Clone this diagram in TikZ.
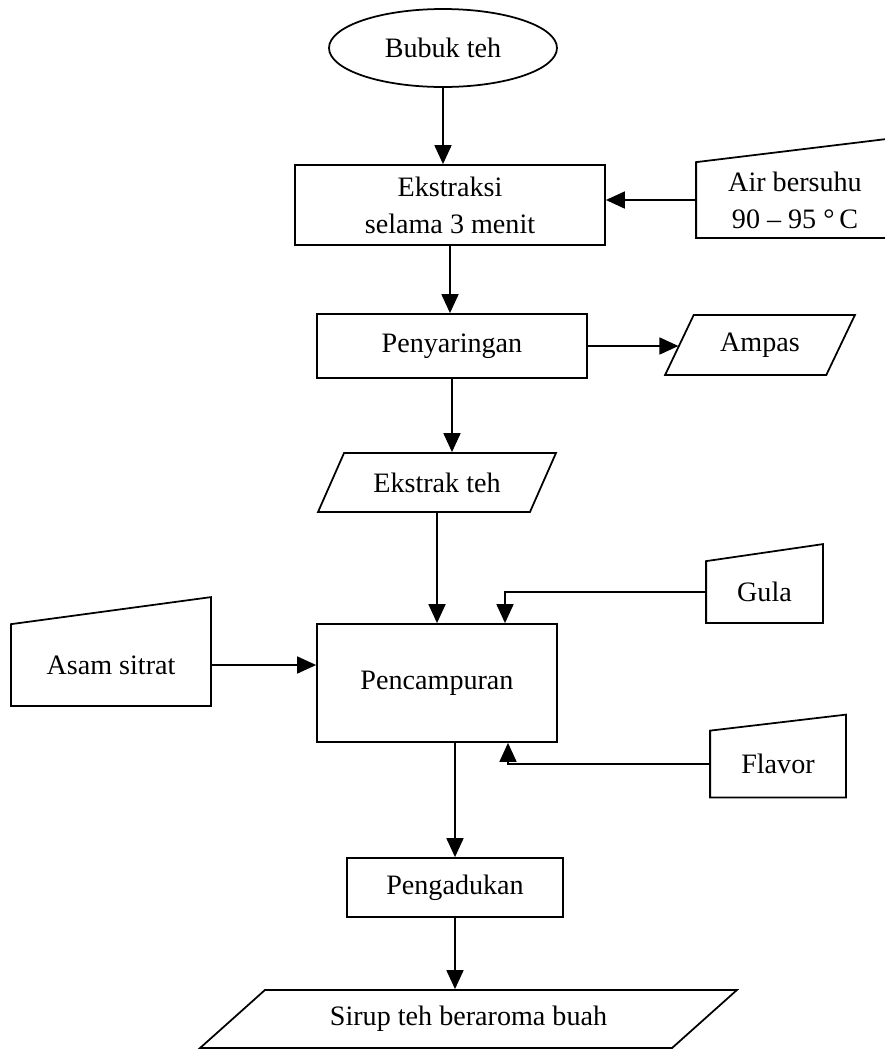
\documentclass[tikz,border=0pt]{standalone}
\usepackage{fontspec}
\setmainfont{Liberation Serif}
\usepackage{tikz}
\usetikzlibrary{arrows.meta,shapes.geometric}

\begin{document}
\begin{tikzpicture}[line width=1pt,font=\fontsize{16}{21}\selectfont,
        proc/.style={draw,rectangle,inner sep=0pt,align=center},
        data/.style={draw,trapezium,trapezium stretches=true,inner sep=0pt},
        manual/.style={rectangle,inner sep=0pt,align=center},
        pfeil/.style={-{Triangle[length=3.8mm,width=3.4mm]}}]
        \useasboundingbox (0,0) rectangle (17.7,-21.06);

        \node[draw,ellipse,minimum width=4.56cm,minimum height=1.56cm,inner sep=0pt] (B) at (8.86,-0.96) {Bubuk teh};
        \node[proc,minimum width=6.2cm,minimum height=1.6cm] (E) at (9.0,-4.1) {Ekstraksi\\selama 3 menit};
        \node[manual,minimum width=3.92cm,minimum height=1.48cm] (Air) at (15.9,-4.0) {Air bersuhu\\90 -- 95 °\,C};
        \draw (Air.south east) -- (Air.south west) -- (Air.north west) -- ([yshift=0.48cm]Air.north east) -- cycle;

        \node[proc,minimum width=5.4cm,minimum height=1.28cm] (P) at (9.04,-6.92) {Penyaringan};
        \node[data,trapezium left angle=55,trapezium right angle=125,minimum width=3.8cm,minimum height=1.2cm] (Amp) at (15.2,-6.9) {Ampas};
        \node[data,trapezium left angle=48,trapezium right angle=132,minimum width=4.8cm,minimum height=1.18cm] (Ek) at (8.74,-9.65) {Ekstrak teh};

        \node[proc,minimum width=4.8cm,minimum height=2.36cm] (C) at (8.74,-13.66) {Pencampuran};
        \node[manual,minimum width=2.3cm,minimum height=1.2cm] (G) at (15.29,-11.84) {Gula};
        \draw (G.south east) -- (G.south west) -- (G.north west) -- ([yshift=0.34cm]G.north east) -- cycle;
        \node[manual,minimum width=2.68cm,minimum height=1.3cm] (F) at (15.56,-15.28) {Flavor};
        \draw (F.south east) -- (F.south west) -- (F.north west) -- ([yshift=0.32cm]F.north east) -- cycle;
        \node[manual,minimum width=3.96cm,minimum height=1.6cm] (As) at (2.22,-13.3) {Asam sitrat};
        \draw (As.south east) -- (As.south west) -- (As.north west) -- ([yshift=0.54cm]As.north east) -- cycle;

        \node[proc,minimum width=4.32cm,minimum height=1.18cm] (Ad) at (9.10,-17.75) {Pengadukan};
        \node[data,trapezium left angle=30,trapezium right angle=150,minimum width=10.74cm,minimum height=1.16cm] (Sr) at (9.37,-20.38) {Sirup teh beraroma buah};

        \draw[pfeil] (B.south) -- (B.south |- E.north);
        \draw[pfeil] (Air.west) -- (Air.west -| E.east);
        \draw[pfeil] (E.south) -- (E.south |- P.north);
        \draw[pfeil] (P.east) -- (P.east -| Amp.west);
        \draw[pfeil] (P.south) -- (P.south |- Ek.north);
        \draw[pfeil] (Ek.south) -- (Ek.south |- C.north);
        \draw[pfeil] (G.west) -| ([xshift=1.36cm]C.north);
        \draw[pfeil] (F.west) -| ([xshift=1.42cm]C.south);
        \draw[pfeil] (As.east) -- (As.east -| C.west);
        \draw[pfeil] (C.south -| Ad.north) -- (Ad.north);
        \draw[pfeil] (Ad.south) -- (Ad.south |- Sr.north);

\end{tikzpicture}
\end{document}
